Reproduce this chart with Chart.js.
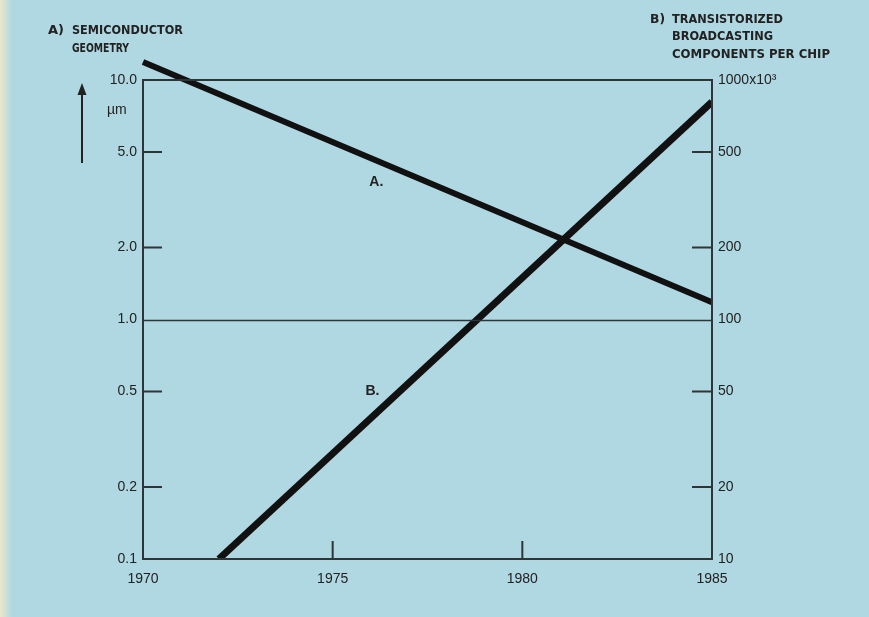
<!DOCTYPE html>
<html>
<head>
<meta charset="utf-8">
<script src="https://cdn.jsdelivr.net/npm/chart.js@4.4.1/dist/chart.umd.min.js"></script>
<style>
  html, body { margin: 0; padding: 0; background: #b0d8e2; }
  canvas { display: block; }
</style>
</head>
<body>
<canvas id="chart1" width="869" height="617"></canvas>
<script>
// years on the x axis
const years = [1970, 1975, 1980, 1985];
// A) semiconductor geometry, um (left axis)
const geometryYears = [1970, 1985];
const geometryValues = [11.9, 1.18];
// B) components per chip, x10^3 (right axis)
const componentYears = [1972, 1985];
const componentValues = [10, 810];

const leftTicks = [0.1, 0.2, 0.5, 1, 2, 5, 10];
const rightTicks = [10, 20, 50, 100, 200, 500, 1000];
const rightTickLabels = ['10', '20', '50', '100', '200', '500', '1000x10³'];

// curve labels, placed in data units on the left axis
const curveLabels = ['A.', 'B.'];
const curveLabelX = [1976.15, 1976.05];
const curveLabelY = [3.75, 0.5];

const ink = '#222';
const axisInk = '#2e3538';

function pairs(xs, ys) {
	return xs.map((x, i) => ({ x: x, y: ys[i] }));
}

// draws a line of caps text stretched to a set width
function stretchText(ctx, text, x, y, w) {
	const m = ctx.measureText(text).width;
	ctx.save();
	ctx.translate(x, y);
	ctx.scale(w / m, 1);
	ctx.fillText(text, 0, 0);
	ctx.restore();
}

const decor = {
	id: 'decor',
	beforeDraw(chart) {
		const ctx = chart.ctx;
		ctx.save();
		ctx.fillStyle = '#b0d8e2';
		ctx.fillRect(0, 0, chart.width, chart.height);
		const g = ctx.createLinearGradient(0, 0, 12, 0);
		g.addColorStop(0, 'rgba(240,232,200,0.9)');
		g.addColorStop(1, 'rgba(240,232,200,0)');
		ctx.fillStyle = g;
		ctx.fillRect(0, 0, 12, chart.height);
		ctx.restore();
	},
	afterDatasetsDraw(chart) {
		const ctx = chart.ctx;
		const area = chart.chartArea;
		const x = chart.scales.x, y = chart.scales.y, y2 = chart.scales.y2;
		ctx.save();
		ctx.strokeStyle = axisInk;

		// frame
		ctx.lineWidth = 2;
		ctx.strokeRect(area.left, area.top, area.right - area.left, area.bottom - area.top);

		// 1.0 line across the plot
		ctx.lineWidth = 1.6;
		const py1 = Math.round(y.getPixelForValue(1)) + 0.5;
		ctx.beginPath();
		ctx.moveTo(area.left, py1);
		ctx.lineTo(area.right, py1);
		ctx.stroke();

		// inward tick marks
		ctx.lineWidth = 2;
		ctx.beginPath();
		[0.2, 0.5, 2, 5].forEach(v => {
			const p = y.getPixelForValue(v);
			ctx.moveTo(area.left, p);
			ctx.lineTo(area.left + 19, p);
		});
		[20, 50, 200, 500].forEach(v => {
			const p = y2.getPixelForValue(v);
			ctx.moveTo(area.right, p);
			ctx.lineTo(area.right - 20, p);
		});
		[1975, 1980].forEach(v => {
			const p = x.getPixelForValue(v);
			ctx.moveTo(p, area.bottom);
			ctx.lineTo(p, area.bottom - 18);
		});
		ctx.stroke();

		// unit arrow
		ctx.fillStyle = ink;
		ctx.strokeStyle = ink;
		ctx.lineWidth = 2;
		ctx.beginPath();
		ctx.moveTo(82, 163);
		ctx.lineTo(82, 92);
		ctx.stroke();
		ctx.beginPath();
		ctx.moveTo(82, 83);
		ctx.lineTo(77.5, 95);
		ctx.lineTo(86.5, 95);
		ctx.closePath();
		ctx.fill();

		ctx.font = '14px "Liberation Sans", Arial, sans-serif';
		ctx.textBaseline = 'middle';
		ctx.textAlign = 'left';
		ctx.fillText('µm', 107, 110);

		// curve labels
		ctx.font = 'bold 14px "Liberation Sans", Arial, sans-serif';
		ctx.textAlign = 'center';
		curveLabels.forEach((t, i) => {
			ctx.fillText(t, x.getPixelForValue(curveLabelX[i]), y.getPixelForValue(curveLabelY[i]));
		});

		// axis titles
		ctx.font = 'bold 13px "DejaVu Sans Condensed", "DejaVu Sans", sans-serif';
		ctx.textAlign = 'left';
		ctx.textBaseline = 'alphabetic';
		stretchText(ctx, 'A)', 48, 34, 16);
		stretchText(ctx, 'SEMICONDUCTOR', 72, 34, 111);
		stretchText(ctx, 'GEOMETRY', 72, 52, 57);
		stretchText(ctx, 'B)', 650, 23, 15);
		stretchText(ctx, 'TRANSISTORIZED', 672, 23, 111);
		stretchText(ctx, 'BROADCASTING', 672, 40, 101);
		stretchText(ctx, 'COMPONENTS PER CHIP', 672, 58, 158);
		ctx.restore();
	}
};

const tickFont = { family: '"Liberation Sans", Arial, sans-serif', size: 14 };

const ds = {
	datasets: [{
		label: 'A',
		data: pairs(geometryYears, geometryValues),
		yAxisID: 'y',
		borderColor: '#111',
		borderWidth: 6,
		borderCapStyle: 'butt',
		pointRadius: 0,
		clip: false
	}, {
		label: 'B',
		data: pairs(componentYears, componentValues),
		yAxisID: 'y2',
		borderColor: '#111',
		borderWidth: 7,
		borderCapStyle: 'butt',
		pointRadius: 0
	}]
};

const options = {
	responsive: false,
	animation: false,
	devicePixelRatio: 1,
	layout: { padding: { top: 80, left: 0, right: 0, bottom: 0 } },
	plugins: {
		legend: { display: false },
		tooltip: { enabled: false }
	},
	scales: {
		x: {
			type: 'linear',
			min: 1970,
			max: 1985,
			afterBuildTicks: s => { s.ticks = years.map(v => ({ value: v })); },
			afterFit: s => { s.height = 58; },
			grid: { display: false, drawTicks: false },
			border: { display: false },
			ticks: { color: ink, font: tickFont, padding: 12, maxRotation: 0, callback: v => String(v) }
		},
		y: {
			type: 'logarithmic',
			position: 'left',
			min: 0.1,
			max: 10,
			afterBuildTicks: s => { s.ticks = leftTicks.map(v => ({ value: v })); },
			afterFit: s => { s.width = 143; },
			grid: { display: false, drawTicks: false },
			border: { display: false },
			ticks: { color: ink, font: tickFont, padding: 6, callback: v => Number(v).toFixed(1) }
		},
		y2: {
			type: 'logarithmic',
			position: 'right',
			min: 10,
			max: 1000,
			afterBuildTicks: s => { s.ticks = rightTicks.map(v => ({ value: v })); },
			afterFit: s => { s.width = 157; },
			grid: { display: false, drawTicks: false },
			border: { display: false },
			ticks: {
				color: ink, font: tickFont, padding: 6,
				callback: v => rightTickLabels[rightTicks.indexOf(Number(v))]
			}
		}
	}
};

const ctx1 = document.getElementById('chart1').getContext('2d');
const myChart = new Chart(ctx1, {
	type: 'line',
	data: ds,
	options: options,
	plugins: [decor]
});
</script>
</body>
</html>
